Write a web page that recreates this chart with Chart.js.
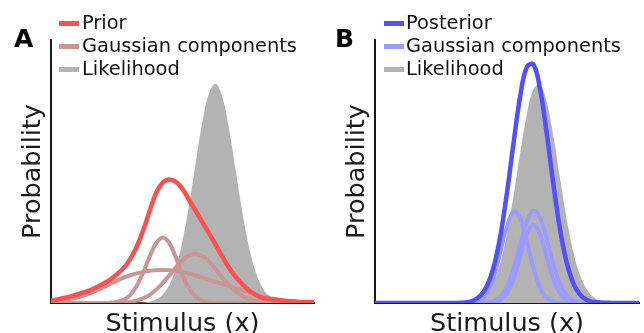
<!DOCTYPE html>
<html><head><meta charset="utf-8">
<script src="https://cdn.jsdelivr.net/npm/chart.js@4.4.1/dist/chart.umd.min.js"></script>
<style>
html,body{margin:0;padding:0;background:#fff;}
body{width:644px;height:333px;position:relative;overflow:hidden;font-family:'DejaVu Sans',sans-serif;}
.panel{position:absolute;top:0;width:322px;height:333px;}
.letter{position:absolute;font-weight:bold;font-size:25px;line-height:25px;color:#000;}
.leg{position:absolute;font-size:19.4px;line-height:22px;color:#111;white-space:nowrap;}
.sw{position:absolute;width:20px;height:5px;}
</style></head><body>
<div class="panel" style="left:0"><canvas id="cA" width="322" height="333"></canvas></div>
<div class="panel" style="left:322px"><canvas id="cB" width="322" height="333"></canvas></div>
<script>
// Stimulus grid (arbitrary units)
const stimulus = [0,2.5,5,7.5,10,12.5,15,17.5,20,22.5,25,27.5,30,32.5,35,37.5,40,42.5,45,47.5,50,52.5,55,57.5,60,62.5,65,67.5,70,72.5,75,77.5,80,82.5,85,87.5,90,92.5,95,97.5,100];

// Panel A
const priorA = [0.011,0.016,0.023,0.030,0.039,0.048,0.059,0.073,0.089,0.107,0.130,0.158,0.198,0.255,0.330,0.420,0.503,0.550,0.564,0.553,0.521,0.470,0.420,0.370,0.320,0.269,0.215,0.164,0.123,0.089,0.059,0.039,0.025,0.018,0.014,0.011,0.009,0.007,0.005,0.005,0.005];
const compA1 = [0,0,0,0,0,0,0,0,0,0.001,0.005,0.014,0.035,0.076,0.138,0.211,0.273,0.299,0.273,0.207,0.128,0.066,0.028,0.010,0.003,0.001,0,0,0,0,0,0,0,0,0,0,0,0,0,0,0];
const compA2 = [0,0,0,0,0,0,0,0,0,0,0.001,0.003,0.005,0.011,0.021,0.037,0.061,0.091,0.126,0.163,0.195,0.217,0.224,0.214,0.189,0.156,0.119,0.084,0.055,0.034,0.019,0.010,0.005,0.002,0.001,0,0,0,0,0,0];
const compA3 = [0.008,0.010,0.014,0.019,0.025,0.034,0.045,0.058,0.072,0.087,0.102,0.115,0.126,0.135,0.142,0.147,0.150,0.151,0.150,0.147,0.142,0.135,0.126,0.116,0.106,0.096,0.087,0.078,0.068,0.059,0.050,0.041,0.032,0.025,0.018,0.014,0.009,0.007,0.005,0.003,0.002];
const likelihoodA = [0,0,0,0,0,0,0,0,0,0,0,0,0,0.001,0.002,0.006,0.016,0.039,0.083,0.161,0.283,0.447,0.638,0.821,0.954,1.000,0.946,0.808,0.622,0.433,0.271,0.154,0.079,0.036,0.015,0.006,0.002,0.001,0,0,0];

// Panel B
const posteriorB = [0,0,0,0,0,0,0,0,0,0,0,0,0,0.001,0.004,0.013,0.034,0.080,0.166,0.307,0.504,0.732,0.943,1.076,1.089,0.978,0.778,0.548,0.342,0.190,0.093,0.041,0.016,0.005,0.002,0.001,0,0,0,0,0];
const compB1 = [0,0,0,0,0,0,0,0,0,0,0,0,0,0,0.001,0.004,0.015,0.048,0.119,0.231,0.351,0.417,0.387,0.281,0.160,0.071,0.025,0.007,0.001,0,0,0,0,0,0,0,0,0,0,0,0];
const compB2 = [0,0,0,0,0,0,0,0,0,0,0,0,0,0,0,0,0.001,0.002,0.009,0.029,0.074,0.156,0.266,0.370,0.420,0.389,0.293,0.180,0.090,0.037,0.012,0.003,0.001,0,0,0,0,0,0,0,0];
const compB3 = [0,0,0,0,0,0,0,0,0,0,0,0,0,0,0,0,0,0.001,0.003,0.014,0.044,0.110,0.211,0.313,0.356,0.313,0.211,0.110,0.044,0.014,0.003,0,0,0,0,0,0,0,0,0,0];
const likelihoodB = [0,0,0,0,0,0,0,0,0,0,0,0,0,0.001,0.003,0.008,0.020,0.047,0.098,0.186,0.319,0.491,0.684,0.859,0.974,0.996,0.919,0.766,0.576,0.390,0.239,0.132,0.066,0.030,0.012,0.004,0.001,0,0,0,0];

// Text
const xTitle = 'Stimulus (x)';
const yTitle = 'Probability';
const panelLetters = ['A', 'B'];
const legendLabelsA = ['Prior', 'Gaussian components', 'Likelihood'];
const legendLabelsB = ['Posterior', 'Gaussian components', 'Likelihood'];

// Colours
const RED = '#ff5050', ROSE = '#c99595', GREY = '#b3b3b3', BLUE = '#5050ff', LBLUE = '#9a9aff';

Chart.defaults.font.family = "'DejaVu Sans', sans-serif";

function makeChart(id, sets, padL, padR) {
  return new Chart(document.getElementById(id), {
    type: 'line',
    data: { datasets: sets.map(s => ({
      label: s.label,
      data: s.values.map((v, i) => ({ x: stimulus[i], y: v })),
      borderColor: s.fill ? 'rgba(0,0,0,0)' : s.color,
      backgroundColor: s.color,
      borderWidth: s.fill ? 0 : s.width,
      fill: s.fill ? 'origin' : false,
      pointRadius: 0,
      pointHoverRadius: 0,
      tension: 0.4,
      order: s.order,
      clip: { left: 0, top: false, right: 3, bottom: 0 }
    })) },
    options: {
      responsive: false, animation: false, devicePixelRatio: 1,
      events: [],
      layout: { padding: { left: padL, right: padR, top: 40, bottom: 0 } },
      plugins: { legend: { display: false }, tooltip: { enabled: false } },
      scales: {
        x: { type: 'linear', min: 0, max: 100, z: 1,
             ticks: { display: false }, grid: { display: false, drawTicks: false },
             border: { display: true, color: '#1a1a1a', width: 2 },
             title: { display: true, text: xTitle, color: '#1a1a1a',
                      font: { size: 25.5, lineHeight: 1 }, padding: { top: 8.15, bottom: -3.65 } } },
        y: { type: 'linear', min: 0, max: 1.2, z: 1,
             ticks: { display: false }, grid: { display: false, drawTicks: false },
             border: { display: true, color: '#1a1a1a', width: 2 },
             title: { display: true, text: yTitle, color: '#1a1a1a',
                      font: { size: 25.5, lineHeight: 1 }, padding: { top: 20.25, bottom: 5.25 } } }
      }
    }
  });
}

makeChart('cA', [
  { label: legendLabelsA[0], values: priorA, color: RED, width: 4.5, order: 0 },
  { label: legendLabelsA[1], values: compA1, color: ROSE, width: 4, order: 1 },
  { label: legendLabelsA[1], values: compA2, color: ROSE, width: 4, order: 1 },
  { label: legendLabelsA[1], values: compA3, color: ROSE, width: 4, order: 1 },
  { label: legendLabelsA[2], values: likelihoodA, color: GREY, fill: true, order: 2 }
], 0, 8);

makeChart('cB', [
  { label: legendLabelsB[0], values: posteriorB, color: BLUE, width: 4.5, order: 0 },
  { label: legendLabelsB[1], values: compB1, color: LBLUE, width: 4, order: 1 },
  { label: legendLabelsB[1], values: compB2, color: LBLUE, width: 4, order: 1 },
  { label: legendLabelsB[1], values: compB3, color: LBLUE, width: 4, order: 1 },
  { label: legendLabelsB[2], values: likelihoodB, color: GREY, fill: true, order: 2 }
], 2, 5);

function addLegend(labels, colors, swX, txX) {
  labels.forEach((lab, i) => {
    const sw = document.createElement('div');
    sw.className = 'sw';
    sw.style.left = swX + 'px';
    sw.style.top = (21 + 23 * i) + 'px';
    sw.style.background = colors[i];
    document.body.appendChild(sw);
    const t = document.createElement('div');
    t.className = 'leg';
    t.style.left = txX + 'px';
    t.style.top = (12.4 + 23 * i) + 'px';
    t.textContent = lab;
    document.body.appendChild(t);
  });
}
addLegend(legendLabelsA, [RED, ROSE, GREY], 59, 82);
addLegend(legendLabelsB, [BLUE, LBLUE, GREY], 384, 406);

function addLetter(txt, x) {
  const d = document.createElement('div');
  d.className = 'letter';
  d.style.left = x + 'px';
  d.style.top = '25.9px';
  d.textContent = txt;
  document.body.appendChild(d);
}
addLetter(panelLetters[0], 14);
addLetter(panelLetters[1], 335);
</script>
</body></html>
